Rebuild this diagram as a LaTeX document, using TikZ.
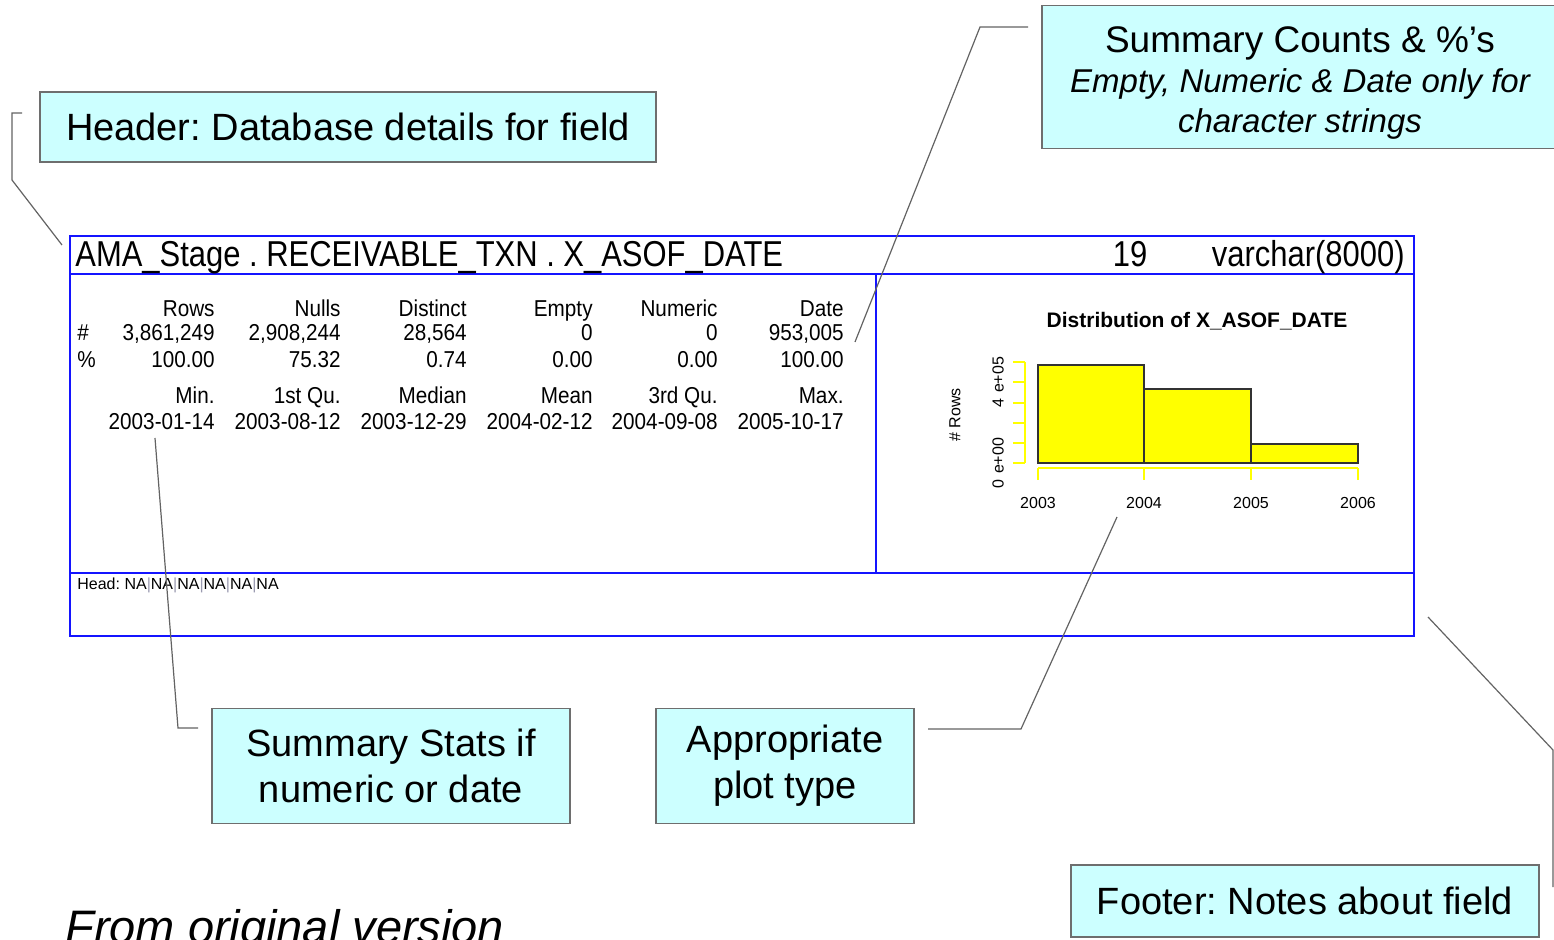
\documentclass[tikz,border=0pt]{standalone}
\usepackage{fontspec}
\setmainfont{Liberation Sans}
\newfontfamily\condfont[FakeStretch=0.86]{Liberation Sans}
\newfontfamily\tabfont[FakeStretch=0.9]{Liberation Sans}
\frenchspacing
\definecolor{callfill}{HTML}{CCFFFF}
\definecolor{callline}{HTML}{6E6E6E}
\definecolor{frameblue}{HTML}{1414FF}
\definecolor{baryellow}{HTML}{FFFF00}
\definecolor{baredge}{HTML}{333333}
\definecolor{sepgray}{HTML}{9A9AB0}
\begin{document}
\frenchspacing
\begin{tikzpicture}[x=0.5pt,y=-0.5pt,
  callout/.style={draw=callline, line width=0.8pt, fill=callfill, inner sep=0pt, align=center,
    font=\fontsize{19pt}{23pt}\selectfont},
  leader/.style={draw=callline!90!black, line width=0.6pt},
  frame/.style={draw=frameblue, line width=1.3pt},
  tcell/.style={anchor=base east, inner sep=0pt, font=\tabfont\fontsize{11.5pt}{13pt}\selectfont},
  tlead/.style={anchor=base west, inner sep=0pt, font=\tabfont\fontsize{11.5pt}{13pt}\selectfont},
  ttl/.style={inner sep=0pt, font=\condfont\fontsize{18pt}{20pt}\selectfont},
  small/.style={inner sep=0pt, font=\fontsize{8pt}{9pt}\selectfont},
  yaxis/.style={draw=baryellow, line width=0.8pt},
  bar/.style={fill=baryellow, draw=baredge, line width=0.8pt}]
\useasboundingbox (0,0) rectangle (1554,940);

% ---- main blue frame ----
\draw[frame] (70,236) rectangle (1414,636);
\draw[frame] (70,274) -- (1414,274);
\draw[frame] (70,573) -- (1414,573);
\draw[frame] (876,274) -- (876,573);

% ---- header row ----
\node[ttl, anchor=base west] (title) at (75,267) {AMA\_Stage . RECEIVABLE\_TXN . X\_ASOF\_DATE};
\node[ttl, anchor=base] (pos) at (1130,267) {19};
\node[ttl, anchor=base east] (type) at (1405,267) {varchar(8000)};

% ---- table ----
\foreach \x/\t [count=\i] in {215/Rows,341/Nulls,467/Distinct,593/Empty,718/Numeric,844/Date}
  \node[tcell] (ha\i) at (\x,317) {\t};
\foreach \x/\t [count=\i] in {215/{3,861,249},341/{2,908,244},467/{28,564},593/0,718/0,844/{953,005}}
  \node[tcell] (hb\i) at (\x,341) {\t};
\foreach \x/\t [count=\i] in {215/100.00,341/75.32,467/0.74,593/0.00,718/0.00,844/100.00}
  \node[tcell] (hc\i) at (\x,368) {\t};
\foreach \x/\t [count=\i] in {215/Min.,341/1st Qu.,467/Median,593/Mean,718/3rd Qu.,844/Max.}
  \node[tcell] (hd\i) at (\x,404) {\t};
\foreach \x/\t [count=\i] in {215/2003-01-14,341/2003-08-12,467/2003-12-29,593/2004-02-12,718/2004-09-08,844/2005-10-17}
  \node[tcell] (he\i) at (\x,430) {\t};
\node[tlead] (hash) at (77,341) {\#};
\node[tlead] (pct) at (77,368) {\%};

% ---- footer text ----
\node[small, anchor=base west] (headtxt) at (77,590) {Head: NA{\color{sepgray}|}NA{\color{sepgray}|}NA{\color{sepgray}|}NA{\color{sepgray}|}NA{\color{sepgray}|}NA};

% ---- histogram ----
\node[inner sep=0pt, anchor=base, font=\bfseries\fontsize{10.5pt}{12pt}\selectfont] (htitle) at (1197,328) {Distribution of X\_ASOF\_DATE};
\draw[bar] (1038,463) rectangle (1144,365);
\draw[bar] (1144,463) rectangle (1251,389);
\draw[bar] (1251,463) rectangle (1358,444);
\draw[yaxis] (1025,362) -- (1025,463);
\foreach \y in {362,382,403,423,443,463} \draw[yaxis] (1013,\y) -- (1025,\y);
\draw[yaxis] (1038,468) -- (1358,468);
\foreach \x in {1038,1144,1251,1358} \draw[yaxis] (\x,468) -- (\x,480);
\foreach \x/\t [count=\i] in {1038/2003,1144/2004,1251/2005,1358/2006}
  \node[small, anchor=base] (xl\i) at (\x,509) {\t};
\node[small, rotate=90] (yl1) at (998,463) {0\,\,e+00};
\node[small, rotate=90] (yl2) at (998,382) {4\,\,e+05};
\node[small, rotate=90] (ylab) at (955,415) {\# Rows};

% ---- callouts ----
\node[callout, minimum width=308pt, minimum height=35pt] (hdr) at (348,127) {Header: Database details for field};
\node[callout, minimum width=258pt, minimum height=71.5pt] (cnt) at (1300,77) {};
\node[inner sep=0pt, anchor=base, font=\fontsize{18.5pt}{20pt}\selectfont] (cnt1) at (1300,53) {Summary Counts \& \%’s};
\node[inner sep=0pt, anchor=base, font=\itshape\fontsize{16.5pt}{20pt}\selectfont] (cnt2) at (1300,93) {Empty, Numeric \& Date only for};
\node[inner sep=0pt, anchor=base, font=\itshape\fontsize{16.5pt}{20pt}\selectfont] (cnt3) at (1300,133) {character strings};
\node[callout, minimum width=179pt, minimum height=57.5pt] (stats) at (391,766) {Summary Stats if\\numeric or date};
\node[callout, minimum width=129pt, minimum height=57.5pt] (plot) at (785,766) {Appropriate\\plot type};
\node[callout, minimum width=234pt, minimum height=36pt] (foot) at (1305,901) {Footer: Notes about field};

% ---- leaders ----
\coordinate (hdrA) at (22,113);  \coordinate (hdrB) at (12,113);
\coordinate (hdrC) at (12,180);  \coordinate (hdrD) at (62,245);
\draw[leader] (hdrA) -- (hdrB) -- (hdrC) -- (hdrD);
\coordinate (cntA) at (1028,27); \coordinate (cntB) at (980,27); \coordinate (cntC) at (855,342);
\draw[leader] (cntA) -- (cntB) -- (cntC);
\coordinate (stA) at (198,728); \coordinate (stB) at (178,728); \coordinate (stC) at (155,438);
\draw[leader] (stA) -- (stB) -- (stC);
\coordinate (plA) at (928,729); \coordinate (plB) at (1021,729); \coordinate (plC) at (1117,517);
\draw[leader] (plA) -- (plB) -- (plC);
\coordinate (ftA) at (1428,617); \coordinate (ftB) at (1553,750); \coordinate (ftC) at (1553,887);
\draw[leader] (ftA) -- (ftB) -- (ftC);

% ---- bottom note ----
\node[inner sep=0pt, anchor=base west, font=\itshape\fontsize{23.5pt}{26pt}\selectfont] (note) at (65,943) {From original version};
\end{tikzpicture}
\end{document}
